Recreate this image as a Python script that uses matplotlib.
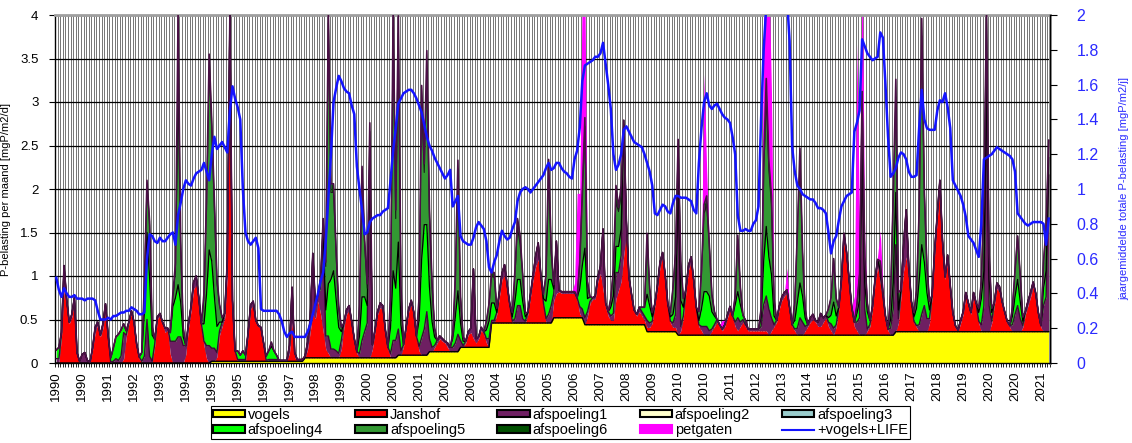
import numpy as np
import matplotlib
matplotlib.use('Agg')
import matplotlib.pyplot as plt
from matplotlib.patches import Patch
from matplotlib.lines import Line2D

plt.rcParams['font.family'] = ['Liberation Sans', 'DejaVu Sans']

years = list(range(1990, 2022))

# x-axis labels (every 10th month, as in the original Excel chart)
x_labels = ['1990', '1990', '1991', '1992', '1993', '1994', '1995', '1995', '1996', '1997',
            '1998', '1999', '2000', '2000', '2001', '2002', '2003', '2004', '2005', '2005',
            '2006', '2007', '2008', '2009', '2010', '2010', '2011', '2012', '2013', '2014',
            '2015', '2015', '2016', '2017', '2018', '2019', '2020', '2020', '2021']

# vogels: one constant value per year
vogels_per_year = [0, 0, 0, 0, 0, 0.02, 0.02, 0.02, 0.06, 0.06, 0.06, 0.09, 0.13, 0.18,
                   0.46, 0.46, 0.52, 0.44, 0.44, 0.36, 0.32, 0.32, 0.32, 0.32, 0.32, 0.32,
                   0.32, 0.36, 0.36, 0.36, 0.36, 0.36]

# monthly values per year [mgP/m2/d]
janshof = {
    1990: [0, 0, 0.3, 0.84, 0.65, 0.45, 0.53, 0.72, 0.1, 0, 0, 0],
    1991: [0, 0, 0.15, 0.35, 0.45, 0.3, 0.4, 0.6, 0.3, 0, 0, 0],
    1992: [0, 0, 0.05, 0.3, 0.45, 0.58, 0.45, 0.2, 0.05, 0, 0, 0],
    1993: [0, 0, 0.2, 0.5, 0.55, 0.45, 0.35, 0.38, 0.1, 0, 0, 0],
    1994: [0, 0, 0.1, 0.4, 0.6, 0.85, 0.9, 0.7, 0.4, 0.2, 0.05, 0],
    1995: [0, 0, 0.05, 0.3, 0.4, 0.5, 1.0, 3.7, 0.6, 0.1, 0, 0],
    1996: [0, 0, 0.3, 0.6, 0.65, 0.45, 0.4, 0.38, 0.2, 0, 0, 0],
    1997: [0, 0, 0, 0, 0, 0, 0.1, 0.45, 0.05, 0, 0, 0],
    1998: [0, 0.1, 0.3, 0.5, 0.45, 0.65, 0.5, 0.3, 0.1, 0.05, 0, 0],
    1999: [0, 0, 0.1, 0.35, 0.5, 0.55, 0.4, 0.2, 0.05, 0, 0, 0],
    2000: [0, 0, 0.1, 0.3, 0.5, 0.58, 0.55, 0.3, 0.1, 0, 0, 0],
    2001: [0, 0, 0.1, 0.3, 0.5, 0.58, 0.45, 0.2, 0.05, 0, 0, 0],
    2002: [0, 0, 0.05, 0.1, 0.15, 0.12, 0.1, 0.05, 0, 0, 0, 0],
    2003: [0, 0, 0.05, 0.15, 0.17, 0.1, 0.05, 0.1, 0.2, 0.15, 0.05, 0],
    2004: [0, 0, 0.1, 0.3, 0.5, 0.55, 0.4, 0.2, 0, 0, 0, 0],
    2005: [0, 0, 0.1, 0.3, 0.5, 0.65, 0.73, 0.5, 0.2, 0, 0, 0],
    2006: [0.2, 0.28, 0.3, 0.28, 0.28, 0.28, 0.28, 0.28, 0.28, 0.2, 0.05, 0],
    2007: [0, 0.1, 0.25, 0.29, 0.3, 0.5, 0.59, 0.4, 0.2, 0.1, 0.05, 0.05],
    2008: [0.3, 0.4, 0.5, 0.8, 1.05, 0.5, 0.3, 0.15, 0.1, 0.15, 0.1, 0.05],
    2009: [0.05, 0.05, 0.1, 0.3, 0.5, 0.75, 0.86, 0.6, 0.3, 0.1, 0.05, 0.05],
    2010: [0, 0.05, 0.2, 0.5, 0.75, 0.85, 0.6, 0.3, 0.1, 0.05, 0, 0],
    2011: [0, 0.05, 0.1, 0.15, 0.1, 0.05, 0.1, 0.2, 0.29, 0.2, 0.1, 0.05],
    2012: [0.1, 0.15, 0.1, 0.05, 0.05, 0.05, 0.05, 0.05, 0.05, 0.05, 0.05, 0],
    2013: [0.05, 0.1, 0.15, 0.3, 0.4, 0.45, 0.48, 0.3, 0.1, 0.05, 0, 0],
    2014: [0, 0.05, 0.1, 0.15, 0.18, 0.15, 0.1, 0.1, 0.15, 0.2, 0.1, 0.05],
    2015: [0, 0.1, 0.3, 0.6, 1.1, 0.9, 0.6, 0.3, 0.1, 0.05, 0, 0],
    2016: [0, 0.05, 0.1, 0.3, 0.6, 0.79, 0.6, 0.4, 0.2, 0.05, 0, 0],
    2017: [0, 0.1, 0.4, 0.7, 0.86, 0.6, 0.3, 0.1, 0.05, 0, 0, 0],
    2018: [0, 0.1, 0.4, 0.9, 1.3, 1.67, 1.0, 0.6, 0.83, 0.5, 0.2, 0.05],
    2019: [0, 0.1, 0.2, 0.41, 0.3, 0.2, 0.41, 0.3, 0.1, 0, 0, 0],
    2020: [0, 0.1, 0.3, 0.5, 0.45, 0.3, 0.2, 0.1, 0.05, 0, 0, 0],
    2021: [0, 0.05, 0.2, 0.3, 0.4, 0.52, 0.4, 0.2, 0.05, 0, 0, 0],
}

afspoeling1 = {
    1990: [0.05, 0.05, 0.03, 0.28, 0.08, 0.02, 0.03, 0.03, 0.02, 0.02, 0.1, 0.12],
    1991: [0.03, 0.01, 0.02, 0.06, 0.02, 0.02, 0.05, 0.08, 0.02, 0.01, 0.02, 0.05],
    1992: [0.03, 0.08, 0.3, 0.02, 0.02, 0.02, 0.02, 0.02, 0.02, 0.02, 0.08, 0.5],
    1993: [0.08, 0.02, 0.02, 0.03, 0.02, 0.02, 0.05, 0.02, 0.15, 0.25, 0.25, 0.3],
    1994: [0.3, 0.2, 0.1, 0.05, 0.05, 0.08, 0.1, 0.05, 0.05, 0.05, 0.15, 0.2],
    1995: [0.15, 0.15, 0.05, 0.05, 0.05, 0.05, 0.15, 0.3, 0.1, 0.02, 0.02, 0.02],
    1996: [0.02, 0.02, 0.02, 0.05, 0.04, 0.02, 0.01, 0.01, 0.01, 0.01, 0.02, 0.02],
    1997: [0.02, 0.02, 0.01, 0.01, 0.01, 0.01, 0.08, 0.4, 0.05, 0.02, 0.02, 0.02],
    1998: [0.02, 0.08, 0.15, 0.7, 0.15, 0.08, 0.3, 1.1, 0.15, 0.2, 0.1, 0.1],
    1999: [0.08, 0.05, 0.1, 0.05, 0.05, 0.05, 0.02, 0.02, 0.02, 0.05, 0.2, 0.3],
    2000: [0.4, 2.2, 0.05, 0.02, 0.03, 0.05, 0.05, 0.02, 0.02, 0.05, 0.2, 0.2],
    2001: [0.3, 0.05, 0.02, 0.02, 0.03, 0.05, 0.04, 0.02, 0.05, 0.2, 0.3, 0.5],
    2002: [0.15, 0.05, 0.02, 0.03, 0.03, 0.03, 0.02, 0.05, 0.05, 0.05, 0.1, 0.2],
    2003: [0.08, 0.02, 0.02, 0.03, 0.05, 0.8, 0.05, 0.02, 0.03, 0.03, 0.05, 0.1],
    2004: [0.03, 0.03, 0.02, 0.05, 0.07, 0.12, 0.04, 0.02, 0.02, 0.05, 0.2, 0.2],
    2005: [0.05, 0.02, 0.02, 0.03, 0.05, 0.12, 0.19, 0.05, 0.03, 0.05, 0.1, 0.2],
    2006: [0.08, 0.6, 0.02, 0.02, 0.02, 0.02, 0.02, 0.02, 0.02, 0.03, 0.08, 0.1],
    2007: [0.08, 0.05, 0.02, 0.02, 0.03, 0.05, 0.08, 0.7, 0.05, 0.05, 0.05, 0.08],
    2008: [0.3, 0.2, 0.3, 1.5, 0.15, 0.05, 0.05, 0.02, 0.02, 0.05, 0.05, 0.05],
    2009: [0.08, 0.05, 0.02, 0.02, 0.03, 0.05, 0.05, 0.05, 0.02, 0.02, 0.05, 0.15],
    2010: [1.6, 0.05, 0.02, 0.03, 0.05, 0.05, 0.03, 0.02, 0.02, 0.05, 0.1, 0.1],
    2011: [0.05, 0.02, 0.02, 0.03, 0.02, 0.02, 0.02, 0.03, 0.04, 0.02, 0.05, 0.15],
    2012: [0.05, 0.03, 0.02, 0.02, 0.02, 0.02, 0.02, 0.02, 0.05, 0.3, 0.4, 0.3],
    2013: [0.15, 0.02, 0.02, 0.03, 0.04, 0.04, 0.04, 0.02, 0.02, 0.02, 0.08, 0.2],
    2014: [0.15, 0.05, 0.02, 0.05, 0.06, 0.02, 0.05, 0.15, 0.05, 0.03, 0.05, 0.08],
    2015: [0.08, 0.02, 0.02, 0.03, 0.07, 0.05, 0.03, 0.02, 0.05, 0.1, 0.2, 2.0],
    2016: [0.3, 0.02, 0.02, 0.03, 0.05, 0.08, 0.1, 0.05, 0.02, 0.02, 0.08, 0.3],
    2017: [1.0, 0.05, 0.08, 0.3, 0.54, 0.15, 0.05, 0.02, 0.02, 0.08, 0.2, 0.3],
    2018: [0.15, 0.05, 0.02, 0.04, 0.05, 0.07, 0.05, 0.03, 0.05, 0.03, 0.02, 0.02],
    2019: [0.02, 0.03, 0.03, 0.04, 0.03, 0.02, 0.04, 0.03, 0.02, 0.08, 0.3, 2.5],
    2020: [0.3, 0.02, 0.03, 0.06, 0.07, 0.05, 0.03, 0.02, 0.02, 0.08, 0.2, 0.3],
    2021: [0.15, 0.02, 0.03, 0.05, 0.05, 0.05, 0.04, 0.02, 0.02, 0.3, 0.4, 1.8],
}

# afspoeling2 and afspoeling3 stay at zero in the whole period
afspoeling2 = {}
afspoeling3 = {}

afspoeling4 = {
    1990: [0.1, 0.13, 0.02, 0, 0, 0, 0, 0, 0, 0, 0, 0],
    1991: [0, 0, 0, 0, 0, 0, 0, 0, 0, 0.05, 0.15, 0.25],
    1992: [0.3, 0.3, 0.1, 0.05, 0, 0, 0, 0, 0, 0.1, 0.5, 1.0],
    1993: [0.9, 0.3, 0.05, 0, 0, 0, 0, 0, 0.1, 0.4, 0.5, 0.6],
    1994: [0.4, 0.1, 0, 0, 0, 0, 0, 0, 0, 0.2, 0.6, 1.1],
    1995: [1.0, 0.6, 0.3, 0.1, 0, 0, 0, 0, 0, 0, 0.1, 0.05],
    1996: [0.1, 0.05, 0, 0, 0, 0, 0, 0, 0, 0.05, 0.1, 0.15],
    1997: [0.1, 0.05, 0, 0, 0, 0, 0, 0, 0, 0, 0, 0],
    1998: [0, 0, 0, 0, 0, 0, 0.1, 0.1, 0.3, 0.6, 0.8, 0.9],
    1999: [0.6, 0.3, 0.1, 0, 0, 0, 0, 0, 0, 0.2, 0.5, 0.4],
    2000: [0.2, 0.1, 0, 0, 0, 0, 0, 0, 0, 0.3, 0.8, 0.6],
    2001: [1.0, 0.3, 0, 0, 0, 0, 0, 0, 0.3, 0.9, 1.2, 1.0],
    2002: [0.6, 0.3, 0.1, 0, 0, 0, 0, 0, 0, 0.1, 0.3, 0.5],
    2003: [0.2, 0.05, 0, 0, 0, 0, 0, 0, 0, 0, 0.1, 0.2],
    2004: [0.2, 0.2, 0, 0, 0, 0, 0, 0, 0.05, 0.2, 0.3, 0.3],
    2005: [0.2, 0.05, 0, 0, 0, 0, 0, 0, 0.05, 0.2, 0.4, 0.3],
    2006: [0.05, 0, 0, 0, 0, 0, 0, 0, 0, 0, 0.2, 0.5],
    2007: [0.8, 0.15, 0.05, 0, 0, 0, 0, 0, 0, 0, 0.1, 0.2],
    2008: [0.3, 0.3, 0.3, 0.05, 0, 0, 0, 0, 0, 0, 0.05, 0.1],
    2009: [0.3, 0.2, 0.05, 0, 0, 0, 0, 0, 0, 0.05, 0.1, 0.2],
    2010: [0.3, 0.3, 0.1, 0, 0, 0, 0, 0, 0.05, 0.2, 0.4, 0.4],
    2011: [0.4, 0.2, 0.1, 0, 0, 0, 0, 0, 0, 0, 0.2, 0.3],
    2012: [0.2, 0.05, 0.05, 0, 0, 0, 0, 0, 0.1, 0.5, 0.8, 0.6],
    2013: [0.5, 0.1, 0, 0, 0, 0, 0, 0, 0, 0.1, 0.3, 0.4],
    2014: [0.3, 0.1, 0, 0, 0, 0, 0, 0, 0, 0, 0.05, 0.1],
    2015: [0.3, 0.1, 0, 0, 0, 0, 0, 0, 0, 0.1, 0.2, 0.3],
    2016: [0.3, 0.2, 0.05, 0, 0, 0, 0.05, 0.05, 0, 0, 0.1, 0.3],
    2017: [0.6, 0.1, 0, 0, 0, 0, 0, 0.05, 0.2, 0.5, 0.8, 0.5],
    2018: [0.3, 0.1, 0, 0, 0, 0, 0, 0, 0, 0, 0, 0],
    2019: [0, 0, 0, 0, 0, 0, 0, 0, 0.1, 0.3, 0.4, 0.5],
    2020: [0.3, 0.1, 0, 0, 0, 0, 0, 0, 0, 0.1, 0.2, 0.3],
    2021: [0.2, 0.05, 0, 0, 0, 0, 0, 0, 0, 0.2, 0.3, 0.2],
}

afspoeling5 = {
    1992: [0, 0, 0, 0, 0, 0, 0, 0, 0, 0, 0.3, 0.55],
    1993: [0.6, 0.1, 0, 0, 0, 0, 0, 0, 0, 0.1, 0.3, 2.2],
    1994: [0.6, 0.1, 0, 0, 0, 0, 0, 0, 0, 0.3, 1.0, 2.1],
    1995: [1.5, 1.0, 0.5, 0.2, 0.05, 0, 0, 0, 0, 0, 0, 0],
    1996: [0, 0, 0, 0, 0, 0, 0, 0, 0, 0, 0, 0.05],
    1998: [0, 0, 0, 0, 0, 0, 0, 0.1, 0.5, 3.0, 1.0, 0.9],
    1999: [0.5, 0.2, 0.05, 0, 0, 0, 0, 0, 0, 0.3, 1.4, 0.6],
    2000: [0.2, 0.3, 0, 0, 0, 0, 0, 0, 0, 0.3, 2.8, 0.8],
    2001: [2.4, 0.4, 0, 0, 0, 0, 0, 0, 0.2, 1.8, 0.6, 1.8],
    2002: [0.8, 0.4, 0.1, 0, 0, 0, 0, 0, 0, 0.05, 0.4, 1.4],
    2003: [0.3, 0.05, 0, 0, 0, 0, 0, 0, 0, 0, 0.1, 0.2],
    2004: [0.3, 0.3, 0.05, 0, 0, 0, 0, 0, 0.05, 0.3, 0.6, 0.4],
    2005: [0.3, 0.05, 0, 0, 0, 0, 0, 0, 0.05, 0.3, 1.2, 0.3],
    2006: [0.05, 0, 0, 0, 0, 0, 0, 0, 0, 0, 0.3, 0.8],
    2007: [1.4, 0.15, 0, 0, 0, 0, 0, 0, 0, 0, 0.1, 0.3],
    2008: [0.5, 0.4, 0.4, 0, 0, 0, 0, 0, 0, 0, 0, 0],
    2009: [0.6, 0.2, 0.05, 0, 0, 0, 0, 0, 0, 0.05, 0.3, 0.5],
    2010: [0.3, 0.4, 0.1, 0, 0, 0, 0, 0, 0.1, 0.4, 0.9, 1.0],
    2011: [0.6, 0.2, 0.05, 0, 0, 0, 0, 0, 0, 0, 0.1, 0.6],
    2012: [0.2, 0, 0, 0, 0, 0, 0, 0, 0.1, 1.0, 1.5, 1.0],
    2013: [0.8, 0.2, 0, 0, 0, 0, 0, 0, 0, 0.2, 0.8, 1.4],
    2014: [0.5, 0.1, 0, 0, 0, 0, 0, 0, 0, 0, 0.1, 0.2],
    2015: [0.5, 0.2, 0, 0, 0, 0, 0, 0, 0, 0.1, 0.3, 0.5],
    2016: [0.3, 0.1, 0, 0, 0, 0, 0.1, 0, 0, 0, 0.3, 1.0],
    2017: [1.1, 0.2, 0, 0, 0, 0, 0, 0.05, 0.2, 0.8, 2.4, 0.8],
    2018: [0.3, 0.1, 0, 0, 0, 0, 0, 0, 0, 0, 0, 0],
    2019: [0, 0, 0, 0, 0, 0, 0, 0, 0.05, 0.2, 0.8, 0.6],
    2020: [0.3, 0.05, 0, 0, 0, 0, 0, 0, 0, 0.1, 0.3, 0.5],
    2021: [0.3, 0.05, 0, 0, 0, 0, 0, 0, 0, 0.3, 0.5, 0.2],
}

afspoeling6 = {
    1992: [0, 0, 0, 0, 0, 0, 0, 0, 0, 0, 0.05, 0.05],
    1993: [0.05, 0, 0, 0, 0, 0, 0, 0, 0, 0.05, 0.1, 0.9],
    1994: [0.1, 0, 0, 0, 0, 0, 0, 0, 0, 0.05, 0.1, 0.15],
    1995: [0.1, 0.1, 0.05, 0, 0, 0, 0, 0, 0, 0, 0, 0],
    1998: [0, 0, 0, 0, 0, 0, 0, 0, 0.05, 0.1, 0.1, 0.1],
    1999: [0.05, 0.05, 0, 0, 0, 0, 0, 0, 0, 0.05, 0.1, 0.05],
    2000: [0.05, 0.1, 0, 0, 0, 0, 0, 0, 0, 0.05, 0.2, 0.1],
    2001: [0.2, 0.05, 0, 0, 0, 0, 0, 0, 0.05, 0.2, 0.1, 0.2],
    2002: [0.1, 0.05, 0, 0, 0, 0, 0, 0, 0, 0, 0.05, 0.1],
    2004: [0.05, 0.05, 0, 0, 0, 0, 0, 0, 0, 0.05, 0.1, 0.1],
    2005: [0, 0, 0, 0, 0, 0, 0, 0, 0, 0, 0.18, 0.05],
    2007: [0.1, 0.05, 0, 0, 0, 0, 0, 0, 0, 0, 0, 0],
    2008: [0.2, 0.05, 0.1, 0, 0, 0, 0, 0, 0, 0, 0, 0],
    2009: [0.1, 0, 0, 0, 0, 0, 0, 0, 0, 0, 0, 0],
    2010: [0.05, 0.05, 0, 0, 0, 0, 0, 0, 0, 0.05, 0.1, 0.1],
    2011: [0, 0, 0, 0, 0, 0, 0, 0, 0, 0, 0, 0.05],
    2012: [0, 0, 0, 0, 0, 0, 0, 0, 0, 0.1, 0.2, 0.1],
    2013: [0.1, 0, 0, 0, 0, 0, 0, 0, 0, 0, 0, 0.15],
    2017: [0.2, 0, 0, 0, 0, 0, 0, 0, 0, 0, 0.2, 0],
    2019: [0, 0, 0, 0, 0, 0, 0, 0, 0, 0, 0.05, 0.1],
}

petgaten = {
    2006: [0, 0, 0, 0, 0, 0, 0, 0, 0.1, 1.2, 0.8, 2.5],
    2007: [1.5, 0, 0, 0, 0, 0, 0, 0, 0, 0, 0, 0],
    2010: [0, 0, 0, 0, 0, 0, 0, 0, 0, 0.2, 1.5, 0.3],
    2011: [0, 0, 0, 0, 0, 0.1, 0.05, 0, 0, 0, 0, 0],
    2012: [0, 0, 0, 0, 0, 0, 0, 0, 0.1, 1.8, 1.5, 2.2],
    2013: [1.2, 0, 0, 0, 0, 0, 0.25, 0, 0, 0, 0, 0],
    2015: [0, 0, 0, 0, 0, 0, 0, 0, 0.3, 3.0, 0.5, 1.5],
    2016: [0.2, 0, 0, 0, 0, 0.05, 0.35, 0.05, 0, 0, 0, 0],
}

# +vogels+LIFE: yearly mean total load, right axis [mgP/m2/j]
vogels_life = {
    1990: [0.49, 0.42, 0.38, 0.43, 0.40, 0.38, 0.38, 0.39, 0.37, 0.37, 0.37, 0.36],
    1991: [0.37, 0.37, 0.37, 0.36, 0.30, 0.25, 0.25, 0.25, 0.26, 0.25, 0.27, 0.27],
    1992: [0.28, 0.29, 0.29, 0.30, 0.30, 0.32, 0.31, 0.30, 0.28, 0.28, 0.29, 0.60],
    1993: [0.74, 0.73, 0.70, 0.69, 0.72, 0.70, 0.70, 0.72, 0.74, 0.75, 0.68, 0.85],
    1994: [0.92, 1.00, 1.05, 1.03, 1.02, 1.06, 1.09, 1.10, 1.11, 1.15, 1.10, 1.05],
    1995: [1.20, 1.30, 1.23, 1.25, 1.27, 1.24, 1.21, 1.45, 1.59, 1.52, 1.47, 1.40],
    1996: [1.00, 0.75, 0.70, 0.68, 0.70, 0.72, 0.66, 0.31, 0.30, 0.30, 0.30, 0.30],
    1997: [0.30, 0.30, 0.28, 0.24, 0.18, 0.15, 0.17, 0.18, 0.15, 0.15, 0.15, 0.15],
    1998: [0.15, 0.18, 0.22, 0.28, 0.34, 0.40, 0.47, 0.52, 0.70, 0.95, 1.20, 1.50],
    1999: [1.58, 1.65, 1.62, 1.58, 1.56, 1.55, 1.48, 1.43, 1.13, 1.00, 0.88, 0.74],
    2000: [0.75, 0.81, 0.83, 0.84, 0.85, 0.85, 0.87, 0.88, 0.89, 1.05, 1.22, 1.35],
    2001: [1.49, 1.52, 1.55, 1.56, 1.57, 1.57, 1.55, 1.52, 1.48, 1.44, 1.37, 1.30],
    2002: [1.25, 1.22, 1.18, 1.15, 1.12, 1.09, 1.06, 1.08, 1.11, 0.90, 0.93, 0.96],
    2003: [0.73, 0.70, 0.69, 0.68, 0.68, 0.72, 0.78, 0.81, 0.79, 0.77, 0.70, 0.55],
    2004: [0.52, 0.58, 0.62, 0.70, 0.76, 0.73, 0.71, 0.72, 0.77, 0.81, 0.93, 0.98],
    2005: [1.00, 1.01, 1.00, 0.98, 1.00, 1.02, 1.04, 1.06, 1.08, 1.12, 1.15, 1.11],
    2006: [1.12, 1.15, 1.15, 1.12, 1.10, 1.09, 1.07, 1.06, 1.17, 1.22, 1.35, 1.62],
    2007: [1.71, 1.72, 1.73, 1.74, 1.76, 1.76, 1.78, 1.84, 1.72, 1.60, 1.46, 1.20],
    2008: [1.11, 1.14, 1.20, 1.34, 1.36, 1.33, 1.30, 1.27, 1.26, 1.25, 1.24, 1.20],
    2009: [1.15, 1.10, 1.02, 0.86, 0.85, 0.88, 0.91, 0.90, 0.87, 0.86, 0.92, 0.96],
    2010: [0.96, 0.95, 0.95, 0.95, 0.94, 0.93, 0.88, 0.86, 1.15, 1.35, 1.50, 1.55],
    2011: [1.48, 1.46, 1.48, 1.49, 1.46, 1.43, 1.41, 1.40, 1.38, 1.30, 1.20, 0.85],
    2012: [0.76, 0.76, 0.77, 0.76, 0.76, 0.80, 0.82, 0.90, 1.40, 1.80, 2.05, 2.15],
    2013: [2.20, 2.30, 2.30, 2.30, 2.30, 2.20, 2.10, 1.85, 1.24, 1.10, 1.02, 1.00],
    2014: [0.97, 0.96, 0.95, 0.94, 0.94, 0.92, 0.89, 0.89, 0.88, 0.86, 0.75, 0.63],
    2015: [0.70, 0.73, 0.82, 0.90, 0.93, 0.96, 0.97, 0.98, 1.33, 1.38, 1.45, 1.86],
    2016: [1.82, 1.78, 1.76, 1.74, 1.75, 1.76, 1.90, 1.87, 1.60, 1.30, 1.07, 1.09],
    2017: [1.12, 1.18, 1.21, 1.20, 1.17, 1.10, 1.07, 1.07, 1.08, 1.35, 1.57, 1.40],
    2018: [1.35, 1.34, 1.34, 1.34, 1.45, 1.51, 1.50, 1.55, 1.47, 1.35, 1.05, 1.02],
    2019: [0.99, 0.96, 0.91, 0.84, 0.73, 0.71, 0.69, 0.65, 0.61, 0.80, 1.17, 1.18],
    2020: [1.19, 1.20, 1.22, 1.24, 1.23, 1.22, 1.21, 1.20, 1.19, 1.17, 1.10, 0.86],
    2021: [0.84, 0.82, 0.80, 0.79, 0.80, 0.81, 0.81, 0.81, 0.81, 0.80, 0.68, 0.83],
}


def monthly(table):
    vals = []
    for y in years:
        row = table.get(y, [0] * 12)
        assert len(row) == 12, y
        vals.extend(row)
    return np.array(vals, dtype=float)


n_months = len(years) * 12
x = np.arange(n_months)

series = [
    ('vogels', np.repeat(vogels_per_year, 12).astype(float), '#ffff00'),
    ('Janshof', monthly(janshof), '#ff0000'),
    ('afspoeling1', monthly(afspoeling1), '#6e1f62'),
    ('afspoeling2', monthly(afspoeling2), '#ffffcc'),
    ('afspoeling3', monthly(afspoeling3), '#99cccc'),
    ('afspoeling4', monthly(afspoeling4), '#00ff00'),
    ('afspoeling5', monthly(afspoeling5), '#339933'),
    ('afspoeling6', monthly(afspoeling6), '#005000'),
    ('petgaten', monthly(petgaten), '#ff00ff'),
]
blue = monthly(vogels_life)

fig = plt.figure(figsize=(11.32, 4.43), dpi=100)
ax = fig.add_axes([55 / 1132, 1 - 363 / 443, 995 / 1132, 348 / 443])

# stacked areas
base = np.zeros(n_months)
tops = {}
for name, vals, col in series:
    top = base + vals
    ax.fill_between(x, base, top, color=col, lw=0, zorder=2)
    tops[name] = top
    base = top

# outlines like in the Excel chart
outline = [('vogels', 'black', 1.0), ('afspoeling1', '#3a0a35', 1.0),
           ('afspoeling4', 'black', 0.9), ('afspoeling5', '#1a1a1a', 0.8),
           ('afspoeling6', '#4a0f45', 1.2)]
for name, col, lw in outline:
    ax.plot(x, tops[name], color=col, lw=lw, zorder=3)

ax.set_xlim(-0.5, n_months - 0.5)
ax.set_ylim(0, 4)

# month gridlines + ticks
ax.set_xticks(np.arange(-0.5, n_months, 1), minor=True)
ax.set_xticks(np.arange(0, n_months, 10))
ax.set_xticklabels(x_labels, rotation=90, fontsize=9.5)
ax.tick_params(axis='x', which='major', length=0, pad=6)
ax.tick_params(axis='x', which='minor', length=3, width=0.6, direction='out')
ax.grid(axis='x', which='minor', color='#1a1a1a', lw=0.42, zorder=0)

ax.set_yticks(np.arange(0, 4.01, 0.5))
ax.set_yticklabels(['%g' % v for v in np.arange(0, 4.01, 0.5)], fontsize=9.5)
ax.tick_params(axis='y', length=4, width=0.8, direction='out', pad=8)
ax.grid(axis='y', which='major', color='black', lw=0.9, zorder=1)
ax.set_axisbelow(True)
ax.set_ylabel('P-belasting per maand [mgP/m2/d]', fontsize=8, labelpad=6)

for side in ['top', 'right']:
    ax.spines[side].set_color('#a0a0a0')
    ax.spines[side].set_linewidth(2)
ax.spines['left'].set_linewidth(1)
ax.spines['bottom'].set_linewidth(1)

# right axis: yearly mean
ax2 = ax.twinx()
ax2.plot(x, blue, color='#1414ff', lw=1.8, zorder=5)
ax2.set_ylim(0, 2)
rt = np.round(np.arange(0, 2.01, 0.2), 1)
ax2.set_yticks(rt)
ax2.set_yticklabels(['%g' % v for v in rt], fontsize=11.5, color='#2a2aff')
ax2.tick_params(axis='y', length=5, width=0.8, direction='out', pad=14)
ax2.set_ylabel('jaargemiddelde totale P-belasting [mgP/m2/j]', fontsize=8,
               color='#2a2aff', labelpad=15)
ax2.spines['right'].set_color('black')
ax2.spines['right'].set_linewidth(1)
for side in ['top', 'left', 'bottom']:
    ax2.spines[side].set_visible(False)

# legend (Excel order by rows; matplotlib fills columns first)
handles = {}
for name, vals, col in series:
    if name == 'petgaten':
        handles[name] = Patch(facecolor=col, edgecolor=col, lw=1.5)
    else:
        handles[name] = Patch(facecolor=col, edgecolor='black', lw=1.5)
handles['+vogels+LIFE'] = Line2D([], [], color='#1414ff', lw=1.5)
order = ['vogels', 'afspoeling4', 'Janshof', 'afspoeling5', 'afspoeling1',
         'afspoeling6', 'afspoeling2', 'petgaten', 'afspoeling3', '+vogels+LIFE']
leg = fig.legend([handles[k] for k in order], order, ncol=5, loc='upper left',
                 bbox_to_anchor=(211 / 1132, 1 - 406 / 443), fontsize=10.5,
                 frameon=True, fancybox=False, edgecolor='black', framealpha=1,
                 handlelength=2.2, handleheight=0.45, handletextpad=0.2,
                 columnspacing=2.2, borderpad=0.12, labelspacing=0.1,
                 borderaxespad=0)
leg.get_frame().set_linewidth(0.8)

fig.savefig('out.png', dpi=100, facecolor='white')
